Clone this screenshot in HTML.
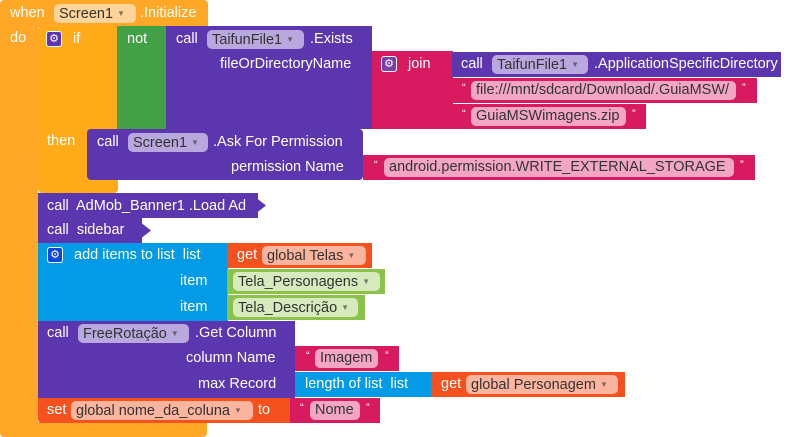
<!DOCTYPE html><html><head><meta charset="utf-8"><style>
body{margin:0;width:791px;height:437px;background:#fff;position:relative;overflow:hidden;font-family:"Liberation Sans",Arial,sans-serif}
div{position:absolute;box-sizing:border-box}
.t{color:#fff;font-size:14.5px;line-height:19px;white-space:nowrap}
.p{height:19px;border-radius:5px;color:#333;font-size:14.5px;line-height:19px;padding-left:5px;white-space:nowrap}
.g{width:16px;height:16px;border-radius:3px;background:#5e35b1;border:1px solid #fff;color:#fff;font-size:11px;line-height:14px;text-align:center}
.O{background:#ffa726}.Pu{background:#5b36ae}.Pk{background:#d81b60}.Gr{background:#43a047}.Bl{background:#039be5}.Or{background:#f4511e}.Lg{background:#8bc34a}
.pO{background:#ffd49a}.pP{background:#b8a8de}.pK{background:#f3a6c4}.pG{background:#d6eabd}.pR{background:#fbb49e}
.a{font-size:8px;opacity:.6;vertical-align:2px}
</style></head><body>
<div class="O" style="left:0;top:0;width:208px;height:27px;border-radius:4px 4px 0 0"></div>
<div class="O" style="left:0;top:26px;width:38px;height:411px;border-radius:0 0 4px 4px"></div>
<div class="O" style="left:0;top:422px;width:207px;height:15px;border-radius:0 0 4px 4px"></div>
<div class="t" style="left:10px;top:4px">when</div>
<div class="p pO" style="left:54px;top:4px;width:82px">Screen1 <span class="a">▼</span></div>
<div class="t" style="left:140px;top:4px">.Initialize</div>
<div class="t" style="left:10px;top:29px">do</div>
<div class="O" style="left:38px;top:26px;width:80px;height:167px;background:#ffab19;border-radius:4px"></div>
<div class="g" style="left:46px;top:31px">⚙</div>
<div class="t" style="left:73px;top:30px">if</div>
<div class="t" style="left:47px;top:132px">then</div>
<div class="Gr" style="left:117px;top:26px;width:50px;height:103px"></div>
<div class="t" style="left:127px;top:30px">not</div>
<div class="Pu" style="left:166px;top:26px;width:206px;height:103px"></div>
<div class="t" style="left:176px;top:30px">call</div>
<div class="p pP" style="left:207px;top:30px;width:97px">TaifunFile1 <span class="a">▼</span></div>
<div class="t" style="left:310px;top:30px">.Exists</div>
<div class="t" style="left:220px;top:55px">fileOrDirectoryName</div>
<div class="Pk" style="left:372px;top:51px;width:81px;height:78px"></div>
<div class="g" style="left:381px;top:56px;background:#7b3fa8">⚙</div>
<div class="t" style="left:408px;top:55px">join</div>
<div class="Pu" style="left:452px;top:52px;width:329px;height:25px"></div>
<div class="t" style="left:461px;top:55px">call</div>
<div class="p pP" style="left:492px;top:55px;width:96px">TaifunFile1 <span class="a">▼</span></div>
<div class="t" style="left:594px;top:55px">.ApplicationSpecificDirectory</div>
<div class="Pk" style="left:452px;top:78px;width:305px;height:25px"></div>
<div class="t" style="left:462px;top:79px;font-size:11px">“</div>
<div class="p pK" style="left:471px;top:81px;width:265px">file:///mnt/sdcard/Download/.GuiaMSW/</div>
<div class="t" style="left:742px;top:79px;font-size:11px">”</div>
<div class="Pk" style="left:452px;top:104px;width:194px;height:25px"></div>
<div class="t" style="left:462px;top:105px;font-size:11px">“</div>
<div class="p pK" style="left:471px;top:107px;width:155px">GuiaMSWimagens.zip</div>
<div class="t" style="left:632px;top:105px;font-size:11px">”</div>
<div class="Pu" style="left:87px;top:129px;width:276px;height:51px;border-radius:4px"></div>
<div class="t" style="left:97px;top:133px">call</div>
<div class="p pP" style="left:128px;top:133px;width:80px">Screen1 <span class="a">▼</span></div>
<div class="t" style="left:213px;top:133px">.Ask For Permission</div>
<div class="t" style="left:231px;top:158px">permission Name</div>
<div class="Pk" style="left:363px;top:155px;width:392px;height:25px"></div>
<div class="t" style="left:374px;top:156px;font-size:11px">“</div>
<div class="p pK" style="left:384px;top:158px;width:350px">android.permission.WRITE_EXTERNAL_STORAGE</div>
<div class="t" style="left:740px;top:156px;font-size:11px">”</div>
<div class="Pu" style="left:38px;top:193px;width:220px;height:25px"></div>
<div class="Pu" style="left:250px;top:193px;width:16px;height:25px;clip-path:polygon(0 0,100% 50%,0 100%)"></div>
<div class="t" style="left:47px;top:197px">call&nbsp; AdMob_Banner1 .Load Ad</div>
<div class="Pu" style="left:38px;top:218px;width:104px;height:25px"></div>
<div class="Pu" style="left:135px;top:218px;width:16px;height:25px;clip-path:polygon(0 0,100% 50%,0 100%)"></div>
<div class="t" style="left:47px;top:221px">call&nbsp; sidebar</div>
<div class="Bl" style="left:38px;top:243px;width:190px;height:78px"></div>
<div class="g" style="left:47px;top:247px;background:#0d47d9">⚙</div>
<div class="t" style="left:74px;top:246px">add items to list&nbsp; list</div>
<div class="t" style="left:180px;top:272px">item</div>
<div class="t" style="left:180px;top:298px">item</div>
<div class="Or" style="left:227px;top:243px;width:145px;height:25px"></div>
<div class="t" style="left:237px;top:246px">get</div>
<div class="p pR" style="left:262px;top:246px;width:104px">global Telas <span class="a">▼</span></div>
<div class="Lg" style="left:227px;top:269px;width:158px;height:25px"></div>
<div class="p pG" style="left:233px;top:272px;width:147px">Tela_Personagens <span class="a">▼</span></div>
<div class="Lg" style="left:227px;top:295px;width:138px;height:25px"></div>
<div class="p pG" style="left:233px;top:298px;width:125px">Tela_Descrição <span class="a">▼</span></div>
<div class="Pu" style="left:38px;top:321px;width:257px;height:77px"></div>
<div class="t" style="left:47px;top:324px">call</div>
<div class="p pP" style="left:78px;top:324px;width:111px">FreeRotação <span class="a">▼</span></div>
<div class="t" style="left:195px;top:324px">.Get Column</div>
<div class="t" style="left:186px;top:349px">column Name</div>
<div class="t" style="left:198px;top:375px">max Record</div>
<div class="Pk" style="left:295px;top:346px;width:104px;height:25px"></div>
<div class="t" style="left:306px;top:347px;font-size:11px">“</div>
<div class="p pK" style="left:315px;top:349px;width:63px">Imagem</div>
<div class="t" style="left:385px;top:347px;font-size:11px">”</div>
<div class="Bl" style="left:295px;top:372px;width:137px;height:25px"></div>
<div class="t" style="left:305px;top:375px">length of list&nbsp; list</div>
<div class="Or" style="left:431px;top:372px;width:194px;height:25px"></div>
<div class="t" style="left:441px;top:375px">get</div>
<div class="p pR" style="left:466px;top:375px;width:152px">global Personagem <span class="a">▼</span></div>
<div class="Or" style="left:38px;top:398px;width:253px;height:25px;border-radius:0 0 0 4px"></div>
<div class="t" style="left:47px;top:401px">set</div>
<div class="p pR" style="left:71px;top:401px;width:182px">global nome_da_coluna <span class="a">▼</span></div>
<div class="t" style="left:258px;top:401px">to</div>
<div class="Pk" style="left:290px;top:398px;width:90px;height:25px"></div>
<div class="t" style="left:300px;top:399px;font-size:11px">“</div>
<div class="p pK" style="left:310px;top:401px;width:50px">Nome</div>
<div class="t" style="left:366px;top:399px;font-size:11px">”</div>
</body></html>
